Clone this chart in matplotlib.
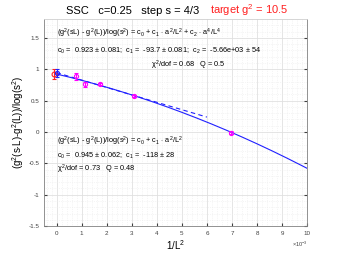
import matplotlib
matplotlib.use("Agg")
import matplotlib.pyplot as plt
from matplotlib.ticker import MultipleLocator, FuncFormatter
import numpy as np

plt.rcParams['font.family'] = ['Liberation Sans', 'DejaVu Sans']
plt.rcParams['mathtext.fontset'] = 'custom'
plt.rcParams['mathtext.rm'] = 'Liberation Sans'
plt.rcParams['mathtext.it'] = 'Liberation Sans'

# measured points (x = 1/L^2)
invL2 = [0.78e-3, 1.12e-3, 1.74e-3, 3.10e-3, 6.96e-3]
ratio = [0.885, 0.757, 0.764, 0.575, -0.01]
ratio_err = [0.05, 0.035, 0.02, 0.02, 0.02]

# fit results
quad_c = [0.923, -93.7, -5.66e3]
quad_err0 = 0.081
lin_c = [0.945, -118]
lin_err0 = 0.062
lin_xmax = 6.0e-3

fig = plt.figure(figsize=(3.39, 2.54), dpi=100)
ax = fig.add_axes([0.130, 0.110, 0.776, 0.815])

ax.set_xlim(-0.5e-3, 10e-3)
ax.set_ylim(-1.5, 1.8)

ax.xaxis.set_major_locator(MultipleLocator(1e-3))
ax.xaxis.set_minor_locator(MultipleLocator(0.2e-3))
ax.yaxis.set_major_locator(MultipleLocator(0.5))
ax.yaxis.set_minor_locator(MultipleLocator(0.1))
ax.xaxis.set_major_formatter(FuncFormatter(lambda v, p: "%g" % round(v * 1e3, 6)))
ax.yaxis.set_major_formatter(FuncFormatter(lambda v, p: "%g" % v))

ax.grid(which='major', color='#e0e0e0', lw=0.6)
ax.grid(which='minor', color='#ececec', lw=0.5, ls=':')
ax.set_axisbelow(True)
ax.tick_params(which='both', direction='in', labelsize=4.5, colors='#404040',
               top=False, right=True, length=2)
ax.tick_params(which='minor', length=0)
for s in ax.spines.values():
    s.set_color('#808080')
    s.set_linewidth(0.6)
ax.spines['top'].set_color('#d0d0d0')

# fit curves
xq = np.linspace(0, 10e-3, 200)
ax.plot(xq, quad_c[0] + quad_c[1] * xq + quad_c[2] * xq**2, color='#2020ff', lw=0.8)
xl = np.linspace(0, lin_xmax, 50)
ax.plot(xl, lin_c[0] + lin_c[1] * xl, color='#2020ff', lw=0.8, ls=(0, (4, 3)))

# data
ax.errorbar(invL2, ratio, yerr=ratio_err, fmt='o', color='#ff00ff', mfc='none',
            ms=3, mew=0.8, elinewidth=0.8, capsize=1.5)
ax.errorbar([-0.1e-3], [quad_c[0]], yerr=[quad_err0], fmt='o', color='#ff2020', mfc='none',
            ms=3.5, mew=0.8, elinewidth=0.8, capsize=1.5)
ax.errorbar([0.03e-3], [lin_c[0]], yerr=[lin_err0], fmt='o', color='#2020ff', mfc='none',
            ms=3, mew=0.8, elinewidth=0.8, capsize=1.5)

fs = 5.3
ax.text(0.05, 0.92, r"(g$^2$(sL) - g$^2$(L))/log(s$^2$) = c$_0$ + c$_1$ $\cdot$ a$^2$/L$^2$ + c$_2$ $\cdot$ a$^4$/L$^4$",
        transform=ax.transAxes, fontsize=fs)
ax.text(0.05, 0.835, r"c$_0$ =  0.923 $\pm$ 0.081;  c$_1$ =  -93.7 $\pm$ 0.081;  c$_2$ =  -5.66e+03 $\pm$ 54",
        transform=ax.transAxes, fontsize=fs)
ax.text(0.405, 0.765, r"$\chi^2$/dof = 0.68   Q = 0.5", transform=ax.transAxes, fontsize=fs)

ax.text(0.05, 0.40, r"(g$^2$(sL) - g$^2$(L))/log(s$^2$) = c$_0$ + c$_1$ $\cdot$ a$^2$/L$^2$",
        transform=ax.transAxes, fontsize=fs)
ax.text(0.05, 0.332, r"c$_0$ =  0.945 $\pm$ 0.062;  c$_1$ =  -118 $\pm$ 28",
        transform=ax.transAxes, fontsize=fs)
ax.text(0.05, 0.265, r"$\chi^2$/dof = 0.73   Q = 0.48", transform=ax.transAxes, fontsize=fs)

ax.set_xlabel(r"1/L$^2$", fontsize=7, labelpad=2)
ax.set_ylabel(r"(g$^2$(s$\cdot$L)-g$^2$(L))/log(s$^2$)", fontsize=7, labelpad=2)
ax.text(1.0, -0.065, r"$\times$10$^{-3}$", transform=ax.transAxes, fontsize=4,
        ha='right', va='top', color='#404040')

fig.text(0.195, 0.945, "SSC   c=0.25   step s = 4/3", fontsize=8)
fig.text(0.62, 0.945, r"target g$^2$ = 10.5", fontsize=8, color='#ff2020')

fig.savefig("out.png", dpi=100)
